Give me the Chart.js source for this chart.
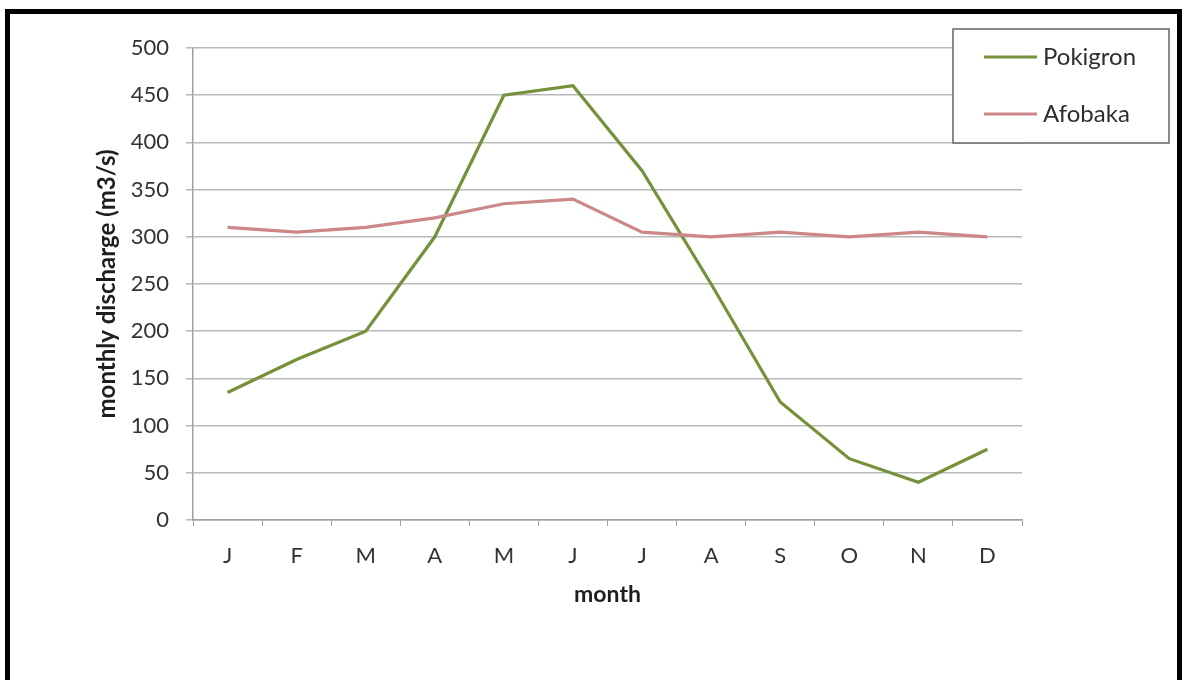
<!DOCTYPE html>
<html lang="en">
<head>
    <meta charset="UTF-8">
    <title>Monthly discharge</title>
    <style>
        html, body {margin: 0; padding: 0; background: #fff; overflow: hidden;}
        #frame {position: absolute; left: 5px; top: 9px; width: 1167px; height: 700px; border: 5px solid #000;}
        #wrap {position: absolute; left: 0; top: 0; width: 1187px; height: 680px;}
    </style>
    <script src="https://cdn.jsdelivr.net/npm/chart.js@4.4.1/dist/chart.umd.min.js"></script>
</head>
<body>
    <div id="frame"></div>
    <div id="wrap">
        <canvas id="flowChart" width="1187" height="680"></canvas>
    </div>

    <script>
        // data
        const months = ['J', 'F', 'M', 'A', 'M', 'J', 'J', 'A', 'S', 'O', 'N', 'D'];
        const pokigron = [135, 170, 200, 300, 450, 460, 370, 250, 125, 65, 40, 75];
        const afobaka = [310, 305, 310, 320, 335, 340, 305, 300, 305, 300, 305, 300];
        const yTicks = [0, 50, 100, 150, 200, 250, 300, 350, 400, 450, 500];

        const font = 'Lato, "Open Sans", sans-serif';
        const green = '#75913a';
        const pink = '#cd8788';

        // legend box in the top right corner, drawn from the dataset labels
        const boxLegend = {
            id: 'boxLegend',
            afterDraw(chart) {
                const c = chart.ctx;
                c.save();
                c.strokeStyle = '#666';
                c.lineWidth = 1.5;
                c.fillStyle = '#fff';
                c.fillRect(953, 29, 216, 114);
                c.strokeRect(953, 29, 216, 114);
                c.font = '24px ' + font;
                c.textBaseline = 'middle';
                chart.data.datasets.forEach((ds, i) => {
                    const y = 57 + i * 57;
                    c.strokeStyle = ds.borderColor;
                    c.lineWidth = 3;
                    c.beginPath();
                    c.moveTo(984, y);
                    c.lineTo(1037, y);
                    c.stroke();
                    c.fillStyle = '#2e2e2e';
                    c.fillText(ds.label, 1043, y);
                });
                c.restore();
            }
        };

        const chart = new Chart(document.getElementById('flowChart'), {
            type: 'line',
            data: {
                labels: months,
                datasets: [
                    {label: 'Pokigron', data: pokigron, borderColor: green, borderWidth: 3.2, pointRadius: 0, tension: 0, order: 2},
                    {label: 'Afobaka', data: afobaka, borderColor: pink, borderWidth: 3.2, pointRadius: 0, tension: 0, order: 1}
                ]
            },
            options: {
                responsive: false,
                animation: false,
                layout: {padding: {left: 89, top: 48, right: 165, bottom: 0}},
                plugins: {legend: {display: false}, tooltip: {enabled: false}},
                scales: {
                    x: {
                        offset: true,
                        afterFit: (s) => { s.height = 160; },
                        grid: {offset: true, drawOnChartArea: false, tickLength: 6, color: '#a0a0a0'},
                        border: {color: '#a0a0a0', width: 1.5},
                        ticks: {padding: 17, color: '#333', font: {family: font, size: 22}, maxRotation: 0, autoSkip: false},
                        title: {display: true, text: 'month', color: '#1e1e1e', font: {family: font, size: 23, weight: 'bold'}, padding: {top: 4, bottom: 72}}
                    },
                    y: {
                        min: 0,
                        max: 500,
                        afterFit: (s) => { s.width = 104; },
                        afterBuildTicks: (s) => { s.ticks = yTicks.map(v => ({value: v})); },
                        grid: {color: '#b9b9b9', lineWidth: 1.5, tickLength: 7},
                        border: {color: '#a0a0a0', width: 1.5},
                        ticks: {padding: 17, color: '#333', font: {family: font, size: 22}},
                        title: {display: true, text: 'monthly discharge (m3/s)', color: '#1e1e1e', font: {family: font, size: 24, weight: 'bold'}, padding: {top: 4, bottom: 4}}
                    }
                }
            },
            plugins: [boxLegend]
        });
    </script>
</body>
</html>
